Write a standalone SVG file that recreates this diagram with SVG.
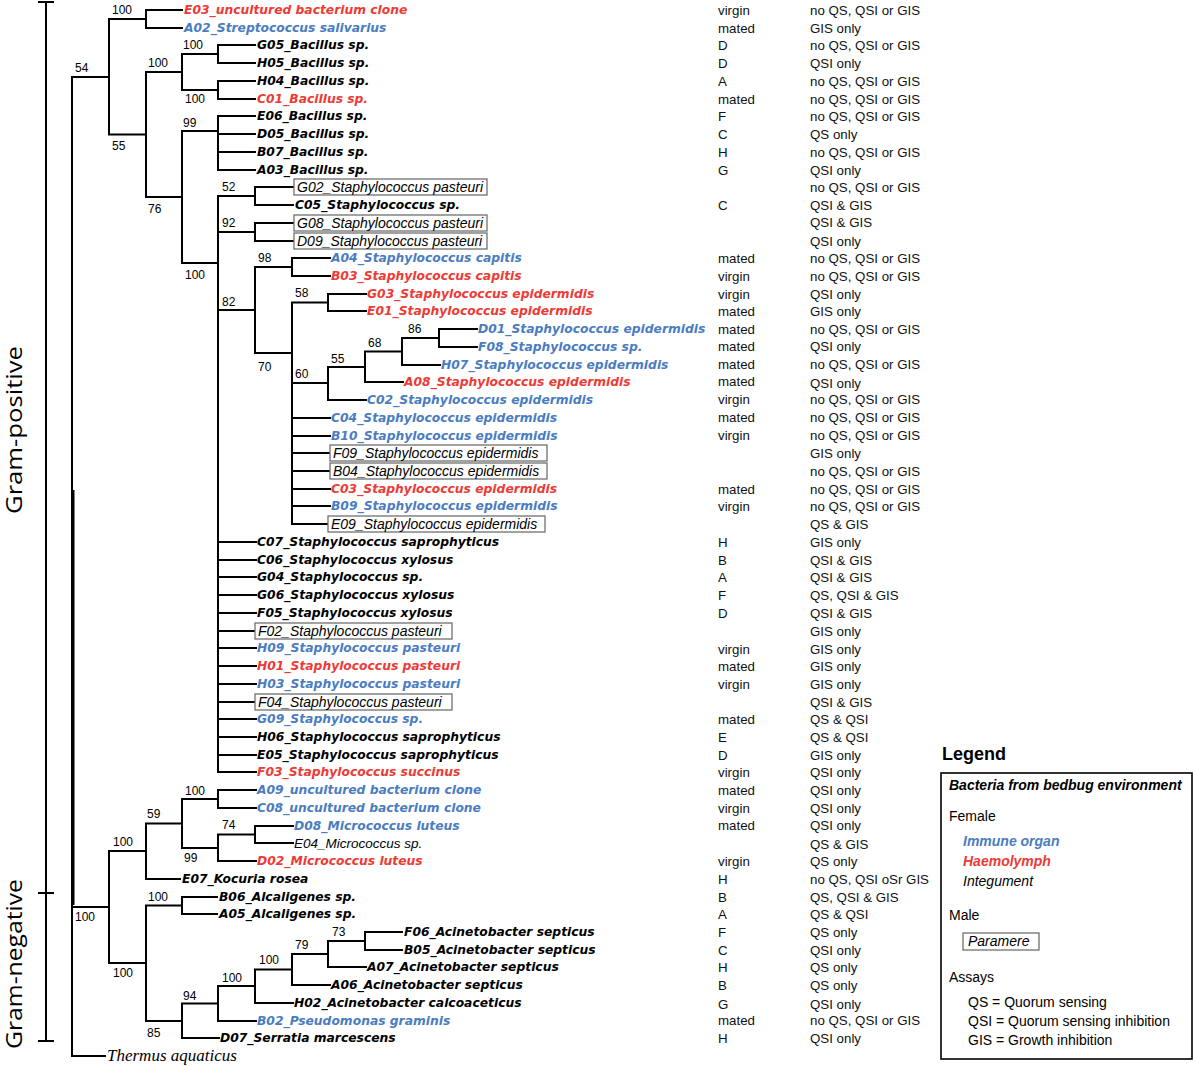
<svg xmlns="http://www.w3.org/2000/svg" width="1193" height="1066" viewBox="0 0 1193 1066">
<style>
.ln{fill:none;stroke:#000;stroke-width:2;stroke-linecap:square}
.b{font-family:"DejaVu Sans",sans-serif;font-weight:bold;font-style:italic;font-size:12.3px;fill:#000}
.r{fill:#ee3a35}
.u{fill:#4a7cc1}
.it{font-family:"Liberation Sans",Arial,sans-serif;font-style:italic;font-size:14px;fill:#000}
.box{fill:#fff;stroke:#707070;stroke-width:1.3}
.bs{font-family:"Liberation Sans",Arial,sans-serif;font-size:12px;fill:#000}
.c{font-family:"Liberation Sans",Arial,sans-serif;font-size:13.3px;fill:#111}
.lg{font-family:"Liberation Sans",Arial,sans-serif;font-size:14px;fill:#000}
.lgb{font-family:"Liberation Sans",Arial,sans-serif;font-size:14px;font-weight:bold;font-style:italic}
.gram{font-family:"Open Sans",sans-serif;font-size:22px;fill:#000}
</style>
<rect width="1193" height="1066" fill="#fff"/>

<g id="connectors">
<path class="ln" d="M72 77V1056 M72 77H109 M109 19V134.5 M109 19H146 M146 10V28 M146 10H182 M146 28H182
M109 134.5H146 M146 72V197 M146 72H182 M182 54V90 M182 54H218 M218 45V63 M218 45H255 M218 63H255
M182 90H218 M218 81V99 M218 81H255 M218 99H255
M146 197H182 M182 131V263 M182 131H218 M218 116V170 M218 116H255 M218 134H255 M218 152H255 M218 170H255
M182 263H218 M218 196V772 M218 196H255 M255 187V205 M255 187H294 M255 205H293
M218 232H255 M255 223V241 M255 223H294 M255 241H294
M218 310H255 M255 267V353 M255 267H292 M292 258V276 M292 258H330 M292 276H330
M255 353H292 M292 302.5V524 M292 302.5H328 M328 294V311 M328 294H366 M328 311H366
M292 383H328 M328 367V400 M328 367H365 M365 351.5V382 M365 351.5H402 M402 338V365 M402 338H439 M439 329V347 M439 329H477 M439 347H477
M402 365H440 M365 382H403 M328 400H366
M292 418H330 M292 436H330 M292 453H330 M292 471H330 M292 489H330 M292 506H330 M292 524H328
M218 542H256 M218 560H256 M218 577H256 M218 595H256 M218 613H256 M218 631H255 M218 648H256 M218 666H256 M218 684H256 M218 702H255 M218 719H256 M218 737H256 M218 755H256 M218 772H256
M72 907H109 M109 851V963 M109 851H146 M146 823.5V879 M146 823.5H182 M182 799V848 M182 799H218 M218 790V808 M218 790H256 M218 808H256
M182 848H218 M218 834.5V861 M218 834.5H255 M255 826V843 M255 826H293 M255 843H293 M218 861H256 M146 879H180
M109 963H146 M146 905.5V1021 M146 905.5H182 M182 897V914 M182 897H217 M182 914H217
M146 1021H182 M182 1003.5V1038 M182 1003.5H218 M218 986V1021 M218 986H255 M255 969.5V1003 M255 969.5H292 M292 954V985 M292 954H328 M328 941V967 M328 941H365 M365 932V950 M365 932H402 M365 950H402
M328 967H366 M292 985H330 M255 1003H293 M218 1021H256 M182 1038H219 M72 1056H105"/>
<path d="M73 490V905" fill="none" stroke="#000" stroke-width="3"/>
</g>

<g id="bootstrap">
<text class="bs" x="112" y="14">100</text>
<text class="bs" x="75" y="72">54</text>
<text class="bs" x="183" y="49">100</text>
<text class="bs" x="148" y="67">100</text>
<text class="bs" x="185" y="103">100</text>
<text class="bs" x="183" y="127">99</text>
<text class="bs" x="112" y="150">55</text>
<text class="bs" x="148" y="213">76</text>
<text class="bs" x="222" y="191">52</text>
<text class="bs" x="222" y="227">92</text>
<text class="bs" x="185" y="279">100</text>
<text class="bs" x="258" y="262">98</text>
<text class="bs" x="222" y="306">82</text>
<text class="bs" x="295" y="297">58</text>
<text class="bs" x="408" y="333">86</text>
<text class="bs" x="368" y="347">68</text>
<text class="bs" x="331" y="363">55</text>
<text class="bs" x="258" y="371">70</text>
<text class="bs" x="295" y="378">60</text>
<text class="bs" x="185" y="795">100</text>
<text class="bs" x="147" y="818">59</text>
<text class="bs" x="222" y="829">74</text>
<text class="bs" x="113" y="846">100</text>
<text class="bs" x="184" y="862">99</text>
<text class="bs" x="148" y="901">100</text>
<text class="bs" x="75" y="921">100</text>
<text class="bs" x="332" y="936">73</text>
<text class="bs" x="295" y="949">79</text>
<text class="bs" x="259" y="964">100</text>
<text class="bs" x="222" y="982">100</text>
<text class="bs" x="183" y="1000">94</text>
<text class="bs" x="113" y="977">100</text>
<text class="bs" x="147" y="1037">85</text>
</g>

<g id="leaf-E03"><text class="b r" x="184" y="14">E03_uncultured bacterium clone</text><text class="c" x="718" y="15">virgin</text><text class="c" x="810" y="15">no QS, QSI or GIS</text></g>
<g id="leaf-A02"><text class="b u" x="184" y="32">A02_Streptococcus salivarius</text><text class="c" x="718" y="33">mated</text><text class="c" x="810" y="33">GIS only</text></g>
<g id="leaf-G05"><text class="b" x="257" y="49">G05_Bacillus sp.</text><text class="c" x="718" y="50">D</text><text class="c" x="810" y="50">no QS, QSI or GIS</text></g>
<g id="leaf-H05"><text class="b" x="257" y="67">H05_Bacillus sp.</text><text class="c" x="718" y="68">D</text><text class="c" x="810" y="68">QSI only</text></g>
<g id="leaf-H04"><text class="b" x="257" y="85">H04_Bacillus sp.</text><text class="c" x="718" y="86">A</text><text class="c" x="810" y="86">no QS, QSI or GIS</text></g>
<g id="leaf-C01"><text class="b r" x="257" y="103">C01_Bacillus sp.</text><text class="c" x="718" y="104">mated</text><text class="c" x="810" y="104">no QS, QSI or GIS</text></g>
<g id="leaf-E06"><text class="b" x="257" y="120">E06_Bacillus sp.</text><text class="c" x="718" y="121">F</text><text class="c" x="810" y="121">no QS, QSI or GIS</text></g>
<g id="leaf-D05"><text class="b" x="257" y="138">D05_Bacillus sp.</text><text class="c" x="718" y="139">C</text><text class="c" x="810" y="139">QS only</text></g>
<g id="leaf-B07"><text class="b" x="257" y="156">B07_Bacillus sp.</text><text class="c" x="718" y="157">H</text><text class="c" x="810" y="157">no QS, QSI or GIS</text></g>
<g id="leaf-A03"><text class="b" x="257" y="174">A03_Bacillus sp.</text><text class="c" x="718" y="175">G</text><text class="c" x="810" y="175">QSI only</text></g>
<g id="leaf-G02"><rect class="box" x="294" y="179" width="193" height="16"/><text class="it" x="297" y="192">G02_Staphylococcus pasteuri</text><text class="c" x="810" y="192">no QS, QSI or GIS</text></g>
<g id="leaf-C05"><text class="b" x="295" y="209">C05_Staphylococcus sp.</text><text class="c" x="718" y="210">C</text><text class="c" x="810" y="210">QSI &amp; GIS</text></g>
<g id="leaf-G08"><rect class="box" x="294" y="215" width="193" height="16"/><text class="it" x="297" y="228">G08_Staphylococcus pasteuri</text><text class="c" x="810" y="227">QSI &amp; GIS</text></g>
<g id="leaf-D09"><rect class="box" x="294" y="233" width="193" height="16"/><text class="it" x="297" y="246">D09_Staphylococcus pasteuri</text><text class="c" x="810" y="246">QSI only</text></g>
<g id="leaf-A04"><text class="b u" x="331" y="262">A04_Staphylococcus capitis</text><text class="c" x="718" y="263">mated</text><text class="c" x="810" y="263">no QS, QSI or GIS</text></g>
<g id="leaf-B03"><text class="b r" x="331" y="280">B03_Staphylococcus capitis</text><text class="c" x="718" y="281">virgin</text><text class="c" x="810" y="281">no QS, QSI or GIS</text></g>
<g id="leaf-G03"><text class="b r" x="367" y="298">G03_Staphylococcus epidermidis</text><text class="c" x="718" y="299">virgin</text><text class="c" x="810" y="299">QSI only</text></g>
<g id="leaf-E01"><text class="b r" x="367" y="315">E01_Staphylococcus epidermidis</text><text class="c" x="718" y="316">mated</text><text class="c" x="810" y="316">GIS only</text></g>
<g id="leaf-D01"><text class="b u" x="478" y="333">D01_Staphylococcus epidermidis</text><text class="c" x="718" y="334">mated</text><text class="c" x="810" y="334">no QS, QSI or GIS</text></g>
<g id="leaf-F08"><text class="b u" x="478" y="351">F08_Staphylococcus sp.</text><text class="c" x="718" y="351">mated</text><text class="c" x="810" y="351">QSI only</text></g>
<g id="leaf-H07"><text class="b u" x="441" y="369">H07_Staphylococcus epidermidis</text><text class="c" x="718" y="369">mated</text><text class="c" x="810" y="369">no QS, QSI or GIS</text></g>
<g id="leaf-A08"><text class="b r" x="404" y="386">A08_Staphylococcus epidermidis</text><text class="c" x="718" y="386">mated</text><text class="c" x="810" y="388">QSI only</text></g>
<g id="leaf-C02"><text class="b u" x="367" y="404">C02_Staphylococcus epidermidis</text><text class="c" x="718" y="404">virgin</text><text class="c" x="810" y="404">no QS, QSI or GIS</text></g>
<g id="leaf-C04"><text class="b u" x="331" y="422">C04_Staphylococcus epidermidis</text><text class="c" x="718" y="422">mated</text><text class="c" x="810" y="422">no QS, QSI or GIS</text></g>
<g id="leaf-B10"><text class="b u" x="331" y="440">B10_Staphylococcus epidermidis</text><text class="c" x="718" y="440">virgin</text><text class="c" x="810" y="440">no QS, QSI or GIS</text></g>
<g id="leaf-F09"><rect class="box" x="330" y="445" width="217" height="16"/><text class="it" x="333" y="458">F09_Staphylococcus epidermidis</text><text class="c" x="810" y="458">GIS only</text></g>
<g id="leaf-B04"><rect class="box" x="330" y="463" width="217" height="16"/><text class="it" x="333" y="476">B04_Staphylococcus epidermidis</text><text class="c" x="810" y="476">no QS, QSI or GIS</text></g>
<g id="leaf-C03"><text class="b r" x="331" y="493">C03_Staphylococcus epidermidis</text><text class="c" x="718" y="494">mated</text><text class="c" x="810" y="494">no QS, QSI or GIS</text></g>
<g id="leaf-B09"><text class="b u" x="331" y="510">B09_Staphylococcus epidermidis</text><text class="c" x="718" y="511">virgin</text><text class="c" x="810" y="511">no QS, QSI or GIS</text></g>
<g id="leaf-E09"><rect class="box" x="328" y="516" width="217" height="16"/><text class="it" x="331" y="529">E09_Staphylococcus epidermidis</text><text class="c" x="810" y="529">QS &amp; GIS</text></g>
<g id="leaf-C07"><text class="b" x="257" y="546">C07_Staphylococcus saprophyticus</text><text class="c" x="718" y="547">H</text><text class="c" x="810" y="547">GIS only</text></g>
<g id="leaf-C06"><text class="b" x="257" y="564">C06_Staphylococcus xylosus</text><text class="c" x="718" y="565">B</text><text class="c" x="810" y="565">QSI &amp; GIS</text></g>
<g id="leaf-G04"><text class="b" x="257" y="581">G04_Staphylococcus sp.</text><text class="c" x="718" y="582">A</text><text class="c" x="810" y="582">QSI &amp; GIS</text></g>
<g id="leaf-G06"><text class="b" x="257" y="599">G06_Staphylococcus xylosus</text><text class="c" x="718" y="600">F</text><text class="c" x="810" y="600">QS, QSI &amp; GIS</text></g>
<g id="leaf-F05"><text class="b" x="257" y="617">F05_Staphylococcus xylosus</text><text class="c" x="718" y="618">D</text><text class="c" x="810" y="618">QSI &amp; GIS</text></g>
<g id="leaf-F02"><rect class="box" x="255" y="623" width="197" height="16"/><text class="it" x="258" y="636">F02_Staphylococcus pasteuri</text><text class="c" x="810" y="636">GIS only</text></g>
<g id="leaf-H09"><text class="b u" x="257" y="652">H09_Staphylococcus pasteuri</text><text class="c" x="718" y="654">virgin</text><text class="c" x="810" y="654">GIS only</text></g>
<g id="leaf-H01"><text class="b r" x="257" y="670">H01_Staphylococcus pasteuri</text><text class="c" x="718" y="671">mated</text><text class="c" x="810" y="671">GIS only</text></g>
<g id="leaf-H03"><text class="b u" x="257" y="688">H03_Staphylococcus pasteuri</text><text class="c" x="718" y="689">virgin</text><text class="c" x="810" y="689">GIS only</text></g>
<g id="leaf-F04"><rect class="box" x="255" y="694" width="197" height="16"/><text class="it" x="258" y="707">F04_Staphylococcus pasteuri</text><text class="c" x="810" y="707">QSI &amp; GIS</text></g>
<g id="leaf-G09"><text class="b u" x="257" y="723">G09_Staphylococcus sp.</text><text class="c" x="718" y="724">mated</text><text class="c" x="810" y="724">QS &amp; QSI</text></g>
<g id="leaf-H06"><text class="b" x="257" y="741">H06_Staphylococcus saprophyticus</text><text class="c" x="718" y="742">E</text><text class="c" x="810" y="742">QS &amp; QSI</text></g>
<g id="leaf-E05"><text class="b" x="257" y="759">E05_Staphylococcus saprophyticus</text><text class="c" x="718" y="760">D</text><text class="c" x="810" y="760">GIS only</text></g>
<g id="leaf-F03"><text class="b r" x="257" y="776">F03_Staphylococcus succinus</text><text class="c" x="718" y="777">virgin</text><text class="c" x="810" y="777">QSI only</text></g>
<g id="leaf-A09"><text class="b u" x="257" y="794">A09_uncultured bacterium clone</text><text class="c" x="718" y="795">mated</text><text class="c" x="810" y="795">QSI only</text></g>
<g id="leaf-C08"><text class="b u" x="257" y="812">C08_uncultured bacterium clone</text><text class="c" x="718" y="813">virgin</text><text class="c" x="810" y="813">QSI only</text></g>
<g id="leaf-D08"><text class="b u" x="294" y="830">D08_Micrococcus luteus</text><text class="c" x="718" y="830">mated</text><text class="c" x="810" y="830">QSI only</text></g>
<g id="leaf-E04"><text class="it" x="294" y="848" style="font-size:13.5px">E04_Micrococcus sp.</text><text class="c" x="810" y="849">QS &amp; GIS</text></g>
<g id="leaf-D02"><text class="b r" x="257" y="865">D02_Micrococcus luteus</text><text class="c" x="718" y="866">virgin</text><text class="c" x="810" y="866">QS only</text></g>
<g id="leaf-E07"><text class="b" x="182" y="883">E07_Kocuria rosea</text><text class="c" x="718" y="884">H</text><text class="c" x="810" y="884">no QS, QSI oSr GIS</text></g>
<g id="leaf-B06"><text class="b" x="219" y="901">B06_Alcaligenes sp.</text><text class="c" x="718" y="902">B</text><text class="c" x="810" y="902">QS, QSI &amp; GIS</text></g>
<g id="leaf-A05"><text class="b" x="219" y="918">A05_Alcaligenes sp.</text><text class="c" x="718" y="919">A</text><text class="c" x="810" y="919">QS &amp; QSI</text></g>
<g id="leaf-F06"><text class="b" x="404" y="936">F06_Acinetobacter septicus</text><text class="c" x="718" y="937">F</text><text class="c" x="810" y="937">QS only</text></g>
<g id="leaf-B05"><text class="b" x="404" y="954">B05_Acinetobacter septicus</text><text class="c" x="718" y="955">C</text><text class="c" x="810" y="955">QSI only</text></g>
<g id="leaf-A07"><text class="b" x="367" y="971">A07_Acinetobacter septicus</text><text class="c" x="718" y="972">H</text><text class="c" x="810" y="972">QS only</text></g>
<g id="leaf-A06"><text class="b" x="331" y="989">A06_Acinetobacter septicus</text><text class="c" x="718" y="990">B</text><text class="c" x="810" y="990">QS only</text></g>
<g id="leaf-H02"><text class="b" x="294" y="1007">H02_Acinetobacter calcoaceticus</text><text class="c" x="718" y="1009">G</text><text class="c" x="810" y="1009">QSI only</text></g>
<g id="leaf-B02"><text class="b u" x="257" y="1025">B02_Pseudomonas graminis</text><text class="c" x="718" y="1025">mated</text><text class="c" x="810" y="1025">no QS, QSI or GIS</text></g>
<g id="leaf-D07"><text class="b" x="220" y="1042">D07_Serratia marcescens</text><text class="c" x="718" y="1043">H</text><text class="c" x="810" y="1043">QSI only</text></g>
<g id="leaf-Thermus"><text x="107" y="1061" style="font-family:'Liberation Serif',serif;font-style:italic;font-size:17px">Thermus aquaticus</text></g>

<g id="gram-bracket">
<path class="ln" d="M46 2V1041 M39 2H53 M39 893H53 M39 1041H53"/>
<text class="gram" transform="translate(22,430) rotate(-90)" text-anchor="middle" textLength="168" lengthAdjust="spacingAndGlyphs">Gram-positive</text>
<text class="gram" transform="translate(22,964) rotate(-90)" text-anchor="middle" textLength="170" lengthAdjust="spacingAndGlyphs">Gram-negative</text>
</g>

<g id="legend">
<text x="942" y="760" style="font-family:'Liberation Sans',Arial,sans-serif;font-weight:bold;font-size:18px">Legend</text>
<rect x="941" y="773" width="251" height="286" fill="none" stroke="#000" stroke-width="1.6"/>
<text class="lgb" x="949" y="790">Bacteria from bedbug environment</text>
<text class="lg" x="949" y="821">Female</text>
<text class="lgb" x="963" y="846" fill="#4a7cc1">Immune organ</text>
<text class="lgb" x="963" y="866" fill="#ee3a35">Haemolymph</text>
<text class="lg" x="963" y="886" style="font-style:italic">Integument</text>
<text class="lg" x="949" y="920">Male</text>
<rect class="box" x="963" y="933" width="76" height="17"/>
<text class="lg" x="968" y="946" style="font-style:italic">Paramere</text>
<text class="lg" x="949" y="982">Assays</text>
<text class="lg" x="968" y="1007">QS = Quorum sensing</text>
<text class="lg" x="968" y="1026">QSI = Quorum sensing inhibition</text>
<text class="lg" x="968" y="1045">GIS = Growth inhibition</text>
</g>
</svg>
